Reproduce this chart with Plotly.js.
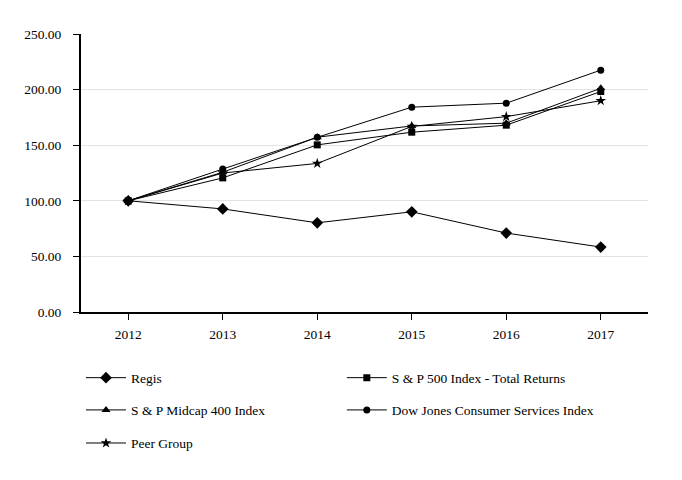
<!DOCTYPE html>
<html>
<head>
<meta charset="utf-8">
<script src="https://cdn.plot.ly/plotly-3.0.1.min.js"></script>
<style>html,body{margin:0;padding:0;background:#fff}#chart{width:682px;height:480px}</style>
</head>
<body>
<div id="chart"></div>
<script>
const years = [2012, 2013, 2014, 2015, 2016, 2017];
const yearLabels = ["2012", "2013", "2014", "2015", "2016", "2017"];
const regis = [100, 92.7, 80.2, 90.1, 71.0, 58.4];
const sp500 = [100, 120.6, 150.3, 161.7, 168.0, 198.3];
const midcap400 = [100, 125.7, 157.2, 167.3, 169.8, 201.2];
const dowJones = [100, 128.5, 157.1, 184.2, 187.8, 217.5];
const peerGroup = [100, 125.0, 133.6, 166.9, 175.7, 190.0];

const names = ["Regis", "S & P 500 Index - Total Returns", "S & P Midcap 400 Index", "Dow Jones Consumer Services Index", "Peer Group"];
const series = [regis, sp500, midcap400, dowJones, peerGroup];
const symbols = ["diamond", "square", "triangle-up", "circle", "star"];
const sizes = [9, 7, 8, 7, 8];
const legendIds = ["legend", "legend2", "legend3", "legend4", "legend5"];

const traces = series.map((s, i) => ({
  x: years, y: s, name: names[i], type: "scatter", mode: "lines+markers",
  line: {color: "#000", width: 1},
  marker: {symbol: symbols[i], size: sizes[i], color: "#000"},
  legend: legendIds[i]
}));

const font = {family: "Liberation Serif", size: 13.5, color: "#000"};
function leg(x, y) {
  return {orientation: "v", x: x, y: y, xanchor: "left", yanchor: "middle",
    itemwidth: 40, font: font, bgcolor: "rgba(0,0,0,0)"};
}

const layout = {
  width: 682, height: 480,
  margin: {l: 81, r: 34, t: 34, b: 168},
  paper_bgcolor: "#fff", plot_bgcolor: "#fff",
  font: font,
  showlegend: true,
  xaxis: {range: [2011.5, 2017.5], tickvals: years, ticktext: yearLabels,
    showgrid: false, zeroline: false, showline: true, linecolor: "#000", linewidth: 2,
    ticks: "outside", ticklen: 6, tickcolor: "#000", tickfont: font, ticklabelstandoff: 3, fixedrange: true},
  yaxis: {range: [0, 250], dtick: 50, tickformat: ".2f",
    showgrid: true, gridcolor: "#e3e3e3", gridwidth: 1, zeroline: false,
    showline: true, linecolor: "#000", linewidth: 2,
    ticks: "outside", ticklen: 6, tickcolor: "#000", tickfont: font, ticklabelstandoff: 9, fixedrange: true},
  legend: leg(0, -0.237),
  legend2: leg(0.46, -0.237),
  legend3: leg(0, -0.353),
  legend4: leg(0.46, -0.353),
  legend5: leg(0, -0.472)
};

Plotly.newPlot("chart", traces, layout, {displayModeBar: false, staticPlot: true});
</script>
</body>
</html>
